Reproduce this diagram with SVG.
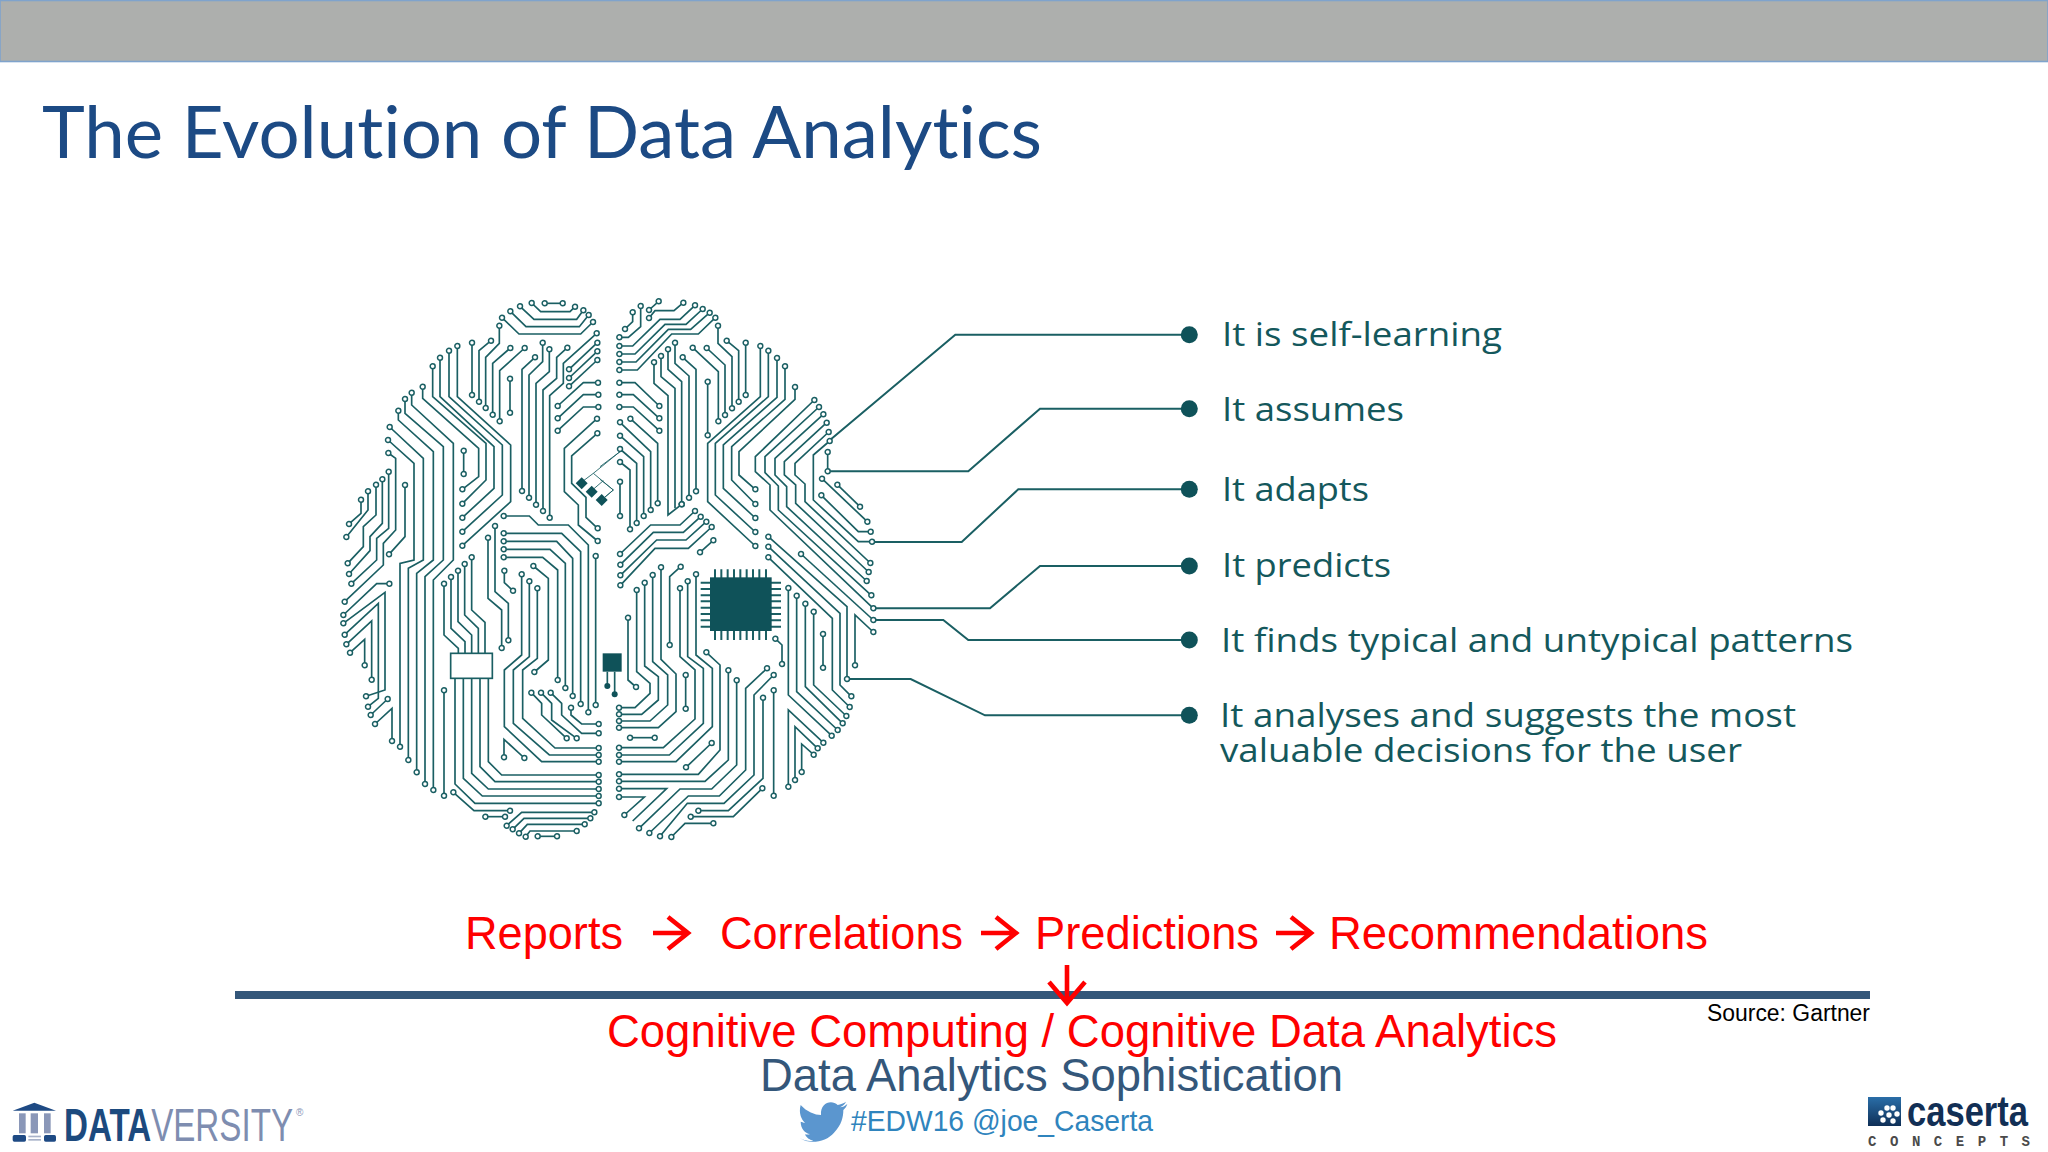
<svg xmlns="http://www.w3.org/2000/svg" width="2048" height="1152" viewBox="0 0 2048 1152">
<style>
.sans{font-family:"Liberation Sans",Arial,sans-serif}
.lab{font-family:"Open Sans","Noto Sans",sans-serif;font-size:32px;fill:#14585c}
.red{font-size:46px;fill:#f00}
.tr path{fill:none;stroke:#1a5f63;stroke-width:5;stroke-linejoin:miter}
.tr path.n{marker-start:url(#o);marker-end:url(#o)}
.tr path.s{marker-start:url(#o)}
.tr path.e{marker-end:url(#o)}
.conn path{fill:none;stroke:#1a5f63;stroke-width:2}
.dot{fill:#0f5259}
.dark{fill:#0f5259;stroke:none}
.arr{fill:none;stroke:#f00;stroke-width:4.6}
</style>
<defs>
<marker id="o" markerUnits="userSpaceOnUse" markerWidth="26" markerHeight="26" refX="13" refY="13"><circle cx="13" cy="13" r="7.5" fill="#fff" stroke="#1a5f63" stroke-width="4.4"/></marker>
<linearGradient id="cg" x1="0" y1="0" x2="0" y2="1"><stop offset="0" stop-color="#2a6ea8"/><stop offset="1" stop-color="#0f2f57"/></linearGradient>
</defs>
<rect width="2048" height="1152" fill="#fff"/>
<rect x="0" y="0.5" width="2048" height="61" fill="#adafad" stroke="#7fa3cc" stroke-width="1.6"/>
<text x="42" y="158" font-family="Lato,'Open Sans',sans-serif" font-size="71" fill="#1c4a84" textLength="1000" lengthAdjust="spacingAndGlyphs" style="font-variant-ligatures:none">The Evolution of Data Analytics</text>

<g id="connectors" class="conn">
<path d="M830 440L955.3 334.7H1189"/>
<path d="M827.3 471.3H968.3L1040 408.7H1189"/>
<path d="M872 542H961.7L1018.3 489.3H1189"/>
<path d="M873.3 608.3H990L1040 566H1189"/>
<path d="M873.3 620H943.3L968.3 640H1189"/>
<path d="M846.7 679H910.7L985 715.3H1189"/>
</g>

<g id="brain">
<g id="brain-top-left" class="tr" transform="translate(320 280) scale(.33333)">
<path class="n" d="M674 70H728"/><path class="n" d="M635 69L662 95H750L765 80"/><path class="n" d="M600 79L642 118H770L790 91"/><path class="n" d="M571 94L618 140H778L806 105"/><path class="n" d="M546 113L597 162H782L819 126"/>
<path class="n" d="M538 137V190L497 232V384"/><path class="n" d="M513 182L477 212V365"/><path class="n" d="M456 188V345"/><path class="n" d="M571 204L518 250V404"/><path class="n" d="M614 204L539 272V424"/><path class="n" d="M570 296V398"/>
<path class="n" d="M645 232L606 268V633"/><path class="n" d="M668 188V245L627 285V653"/><path class="n" d="M688 208V275L648 310V674"/><path class="n" d="M742 203L710 232V295L669 330V693"/><path class="n" d="M830 160L730 250V310L689 347V713"/>
<path class="n" d="M832 188L747 268"/><path class="n" d="M832 214L747 294"/><path class="n" d="M832 240L747 319"/>
<path class="n" d="M834 308H790L713 378"/><path class="n" d="M835 344H790L713 415"/><path class="n" d="M835 381H790L713 452"/>
<path class="n" d="M831 416L733 505V635L775 675V735L833 783"/><path class="n" d="M832 460L755 528V610L798 652V712L833 745"/><path class="n" d="M827 828V1275"/>
<path class="n" d="M431 512V582"/>
<path class="n" d="M308 320V355L476 505V590L427 628"/><path class="n" d="M338 259V350L498 490V600L427 671"/><path class="n" d="M360 233V350L522 500V625L427 713"/><path class="n" d="M387 212V350L547 495V645L427 755"/><path class="n" d="M412 198V350L572 495V665L427 797"/>
<path class="n" d="M275 338V375L400 490V840L340 900V1530"/><path class="n" d="M255 357V400L370 500V840L315 890V1512"/><path class="n" d="M235 392V420L340 515V840L290 880V1477"/><path class="n" d="M209 441L310 535V840L265 865V1440"/><path class="n" d="M204 480L282 550V840L240 850V1400"/>
<path class="n" d="M205 519L227 535V750L190 790V855L74 965"/><path class="n" d="M206 575V745L170 775V840L94 911"/><path class="n" d="M187 598V730L150 770V812L87 882"/><path class="n" d="M168 614V705L130 740V800L83 850"/>
<path class="n" d="M255 615V770L207 823"/><path class="n" d="M144 634V690L79 771"/><path class="n" d="M123 659V700L87 732"/>
<path class="n" d="M551 708H628L655 735H745L805 795V1297"/><path class="n" d="M551 760H725L782 815V1272"/><path class="n" d="M551 784H710L758 835V1248"/><path class="n" d="M551 808H690L736 850V1224"/><path class="n" d="M551 832H668L713 870V1200"/>
<path class="n" d="M525 738V935L565 970V1081"/><path class="n" d="M504 773V955L545 990V1104"/><path class="s" d="M455 832V990L495 1027V1120"/>
<path style="stroke-width:2.6" d="M900 515L820 580L880 630L850 655M820 580L780 610M850 602L815 632"/>
<polygon class="dark" points="785,592 803,610 785,628 767,610"/><polygon class="dark" points="815,617 833,635 815,653 797,635"/><polygon class="dark" points="845,642 863,660 845,678 827,660"/>
</g>

<g id="brain-top-right" class="tr" transform="translate(600 280) scale(.33333)">
<path class="n" d="M176 64L147 90"/><path class="n" d="M250 68L222 92H165L147 114"/><path class="n" d="M98 97V125L75 147"/><path class="n" d="M122 78V140L85 172H58"/>
<path class="n" d="M285 76L240 118H180L98 198H58"/><path class="n" d="M308 87L258 133H195L105 222H58"/><path class="n" d="M329 98L272 148H205L108 246H58"/><path class="n" d="M346 113L295 162H215L112 270H58"/>
<path class="n" d="M58 308H105L178 378"/><path class="n" d="M58 344H100L178 415"/><path class="n" d="M58 381H100L178 452"/>
<path class="n" d="M91 416L173 490V670"/><path class="n" d="M60 427L152 515V690"/><path class="n" d="M60 467L131 530V708"/><path class="n" d="M60 507L110 550V729"/><path class="n" d="M60 546L90 570V748"/><path class="n" d="M60 605V708"/>
<path class="n" d="M162 247V310L204 347V705L245 673"/><path class="s" d="M183 228V290L225 325V685"/><path class="n" d="M204 208V268L245 305V673"/><path class="n" d="M225 188V250L267 288V653"/><path class="n" d="M248 232L288 268V634"/>
<path class="n" d="M278 203L355 275V424"/><path class="n" d="M320 204L375 255V405"/><path class="n" d="M354 137V190L396 230V385"/><path class="n" d="M380 182L416 212V365"/><path class="n" d="M437 188V345"/><path class="n" d="M323 305V466"/>
<path class="n" d="M481 198V350L323 490V665L466 798"/><path class="n" d="M505 212V350L346 490V645L466 756"/><path class="n" d="M531 234V352L370 495V625L466 714"/><path class="n" d="M555 259V358L395 500V600L466 672"/><path class="n" d="M585 321V358L417 515V585L466 628"/>
<path class="n" d="M643 360L466 530V575L510 615V690L820 985"/><path class="n" d="M657 381L495 530V578L535 618V690L814 946"/><path class="n" d="M670 403L525 535V585L560 620V680L800 903"/><path class="n" d="M680 428L553 545V585L587 615V670L806 876"/><path class="n" d="M686 456L585 550V585L615 612V665L811 849"/><path class="n" d="M689 483L640 525V660L775 785H816"/>
<path class="n" d="M683 516V574"/><path class="n" d="M666 596L802 725"/><path class="n" d="M712 614L780 680"/><path class="n" d="M664 646L775 755H812"/>
<path class="n" d="M505 770L741 980V1197"/><path class="n" d="M505 800L720 1000V1215L754 1249"/><path class="n" d="M505 832L697 1015V1230L749 1281"/><path class="n" d="M603 822L820 1020"/>
<path class="n" d="M285 693L240 735H152L60 822"/><path class="n" d="M302 710L250 757H160L61 854"/><path class="n" d="M319 725L258 780H170L61 886"/><path class="n" d="M335 741L265 805H165L61 916"/><path class="n" d="M340 781L300 817"/>
<path style="stroke-width:2.6" d="M0 560L60 515M0 598L40 630L5 660"/>
</g>

<g id="brain-bottom-left" class="tr" transform="translate(320 560) scale(.33333)">
<path class="s" d="M434 12V165L475 205V280"/><path class="s" d="M414 32V185L455 225V280"/><path class="s" d="M393 51V205L435 245V280"/><path class="s" d="M372 71V225L415 265V280"/>
<rect x="392" y="280" width="125" height="75" fill="#fff" stroke="#1a5f63" stroke-width="5"/>
<path class="e" d="M505 355V605L545 645H836"/><path class="e" d="M480 355V620L525 665H836"/><path class="e" d="M455 355V640L505 687H836"/><path class="e" d="M430 355V655L487 708H836"/><path class="e" d="M405 355V672L465 730H836"/>
<path class="n" d="M372 391V707"/><path class="n" d="M400 697L462 752H570"/><path class="n" d="M496 770H555"/>
<path class="n" d="M823 757H605L560 797"/><path class="n" d="M811 775H612L578 808"/><path class="n" d="M794 793H622L597 820"/><path class="n" d="M770 813H630L617 830"/><path class="n" d="M653 829H711"/>
<path class="n" d="M652 85V295L608 330V475L705 564H836"/><path class="n" d="M628 64V290L580 330V490L688 585H836"/><path class="n" d="M605 43V285L553 330V500L665 605H836"/>
<path class="n" d="M552 592V538L613 594"/><path class="n" d="M643 336L685 300V55L640 18"/><path class="n" d="M553 32V68L579 92"/>
<path class="n" d="M634 398L665 430V465L740 535"/><path class="n" d="M663 398L695 430V480L770 535"/><path class="n" d="M692 398L725 430V465L785 520H836"/><path class="n" d="M753 443V465L785 492H836"/>
<path class="n" d="M208 71H170L70 165"/><path class="n" d="M70 190L195 97V390L138 409"/><path class="n" d="M74 224L175 130V415L144 440"/><path class="n" d="M79 253L155 183V359"/><path class="n" d="M90 278L134 238V316"/><path class="n" d="M203 417L152 465"/><path class="n" d="M165 492L216 445V543"/>
</g>

<g id="brain-bottom-right" class="tr" transform="translate(600 560) scale(.33333)">
<path class="n" d="M57 443H105L150 400V370L110 335V90"/><path class="n" d="M57 463H125L175 420V350L134 318V68"/><path class="n" d="M57 483H150L203 435V345L158 305V45"/><path class="n" d="M57 503H175L228 455V342L183 298V22"/>
<path class="n" d="M57 563H190L285 477V330L240 290V85"/><path class="n" d="M57 585H208L310 490V325L263 290V64"/><path class="n" d="M57 605H228L337 500V325L288 285V43"/>
<path class="n" d="M84 173V360L108 381"/><path class="n" d="M209 255V50L242 20"/><path class="n" d="M257 345V446"/><path class="n" d="M90 533H164"/><path class="n" d="M335 549L258 622"/>
<path class="n" d="M57 643H295L360 570V315L319 277"/><path class="n" d="M57 664H315L385 600V331"/><path class="s" d="M57 686H200L98 783"/><path class="n" d="M57 711H133L73 765"/>
<path class="n" d="M117 805L240 687H335L410 615V361"/><path class="n" d="M148 819L265 708H358L437 630V385L501 325"/><path class="n" d="M180 829L262 730H372L462 645V405L521 345"/><path class="n" d="M295 752H385L489 655V413"/><path class="n" d="M272 770H400L487 685"/><path class="n" d="M214 831L255 790H340"/>
<path class="n" d="M521 391V707"/><path class="n" d="M526 236L546 255V312"/>
<path class="n" d="M565 84V405L695 527"/><path class="n" d="M590 107V395L713 510"/><path class="n" d="M616 131V380L728 490"/><path class="n" d="M641 155V375L739 468"/><path class="n" d="M669 222V323"/>
<path class="n" d="M565 680V450L670 548"/><path class="n" d="M585 660V500L653 565"/><path class="n" d="M605 636V552L641 584"/><path class="n" d="M765 316V165L820 216"/>
<rect class="dark" x="8" y="280" width="57" height="55"/><path d="M22 335V378M44 335V403"/><circle class="dark" cx="22" cy="378" r="9"/><circle class="dark" cx="44" cy="403" r="9"/>
<path style="stroke-width:6" d="M345 28V240M364 28V240M383 28V240M402 28V240M421 28V240M440 28V240M459 28V240M478 28V240M498 28V240M302 68H543M302 87H543M302 106H543M302 124H543M302 143H543M302 162H543M302 181H543M302 200H543"/>
<rect class="dark" x="330" y="52" width="185" height="161"/>
</g>
</g>

<g id="node-1"><circle class="dot" cx="1189.3" cy="334.7" r="8.5"/><text class="lab" x="1222" y="346" textLength="280" lengthAdjust="spacingAndGlyphs">It is self-learning</text></g>
<g id="node-2"><circle class="dot" cx="1189.3" cy="408.7" r="8.5"/><text class="lab" x="1222" y="421" textLength="182" lengthAdjust="spacingAndGlyphs">It assumes</text></g>
<g id="node-3"><circle class="dot" cx="1189.3" cy="489.3" r="8.5"/><text class="lab" x="1222" y="501" textLength="147" lengthAdjust="spacingAndGlyphs">It adapts</text></g>
<g id="node-4"><circle class="dot" cx="1189.3" cy="566" r="8.5"/><text class="lab" x="1222" y="577" textLength="169" lengthAdjust="spacingAndGlyphs">It predicts</text></g>
<g id="node-5"><circle class="dot" cx="1189.3" cy="640" r="8.5"/><text class="lab" x="1221" y="652" textLength="632" lengthAdjust="spacingAndGlyphs">It finds typical and untypical patterns</text></g>
<g id="node-6"><circle class="dot" cx="1189.3" cy="715.3" r="8.5"/><text class="lab" x="1220" y="727" textLength="576" lengthAdjust="spacingAndGlyphs">It analyses and suggests the most</text><text class="lab" x="1220" y="762" textLength="522" lengthAdjust="spacingAndGlyphs">valuable decisions for the user</text></g>

<g id="progression">
<text class="sans red" x="465" y="949" textLength="158" lengthAdjust="spacingAndGlyphs">Reports</text>
<path class="arr" d="M653 933H688M668 917L688 933L668 949"/>
<text class="sans red" x="720" y="949" textLength="243" lengthAdjust="spacingAndGlyphs">Correlations</text>
<path class="arr" d="M981 933H1016M996 917L1016 933L996 949"/>
<text class="sans red" x="1035" y="949" textLength="224" lengthAdjust="spacingAndGlyphs">Predictions</text>
<path class="arr" d="M1276 933H1311M1291 917L1311 933L1291 949"/>
<text class="sans red" x="1329" y="949" textLength="379" lengthAdjust="spacingAndGlyphs">Recommendations</text>
</g>
<rect id="rule" x="235" y="991" width="1635" height="8" fill="#34577a"/>
<path class="arr" d="M1067 965V1003M1049 982L1067 1003L1085 982"/>
<text class="sans" x="1707" y="1021" font-size="23" fill="#000" textLength="163" lengthAdjust="spacingAndGlyphs">Source: Gartner</text>
<text class="sans red" x="607" y="1047" textLength="950" lengthAdjust="spacingAndGlyphs">Cognitive Computing / Cognitive Data Analytics</text>
<text class="sans" x="760" y="1091" font-size="46" fill="#34577a" textLength="583" lengthAdjust="spacingAndGlyphs">Data Analytics Sophistication</text>
<g id="twitter">
<path transform="translate(760 950) scale(.33333)" fill="#5b96cf" d="M262 462C255 468 248 472 240 472C248 468 255 462 258 455C250 460 242 463 233 465C215 448 180 458 183 495C165 495 140 485 122 465C115 490 125 510 135 518C130 518 125 516 122 515C122 535 135 550 150 552C145 554 140 554 135 553C140 565 150 570 160 572C147 575 135 572 120 565C150 585 200 575 222 548C245 525 250 500 250 480C255 475 260 470 262 462Z"/>
<text class="sans" x="851" y="1131" font-size="29" fill="#2f84bd" textLength="302" lengthAdjust="spacingAndGlyphs">#EDW16 @joe_Caserta</text>
</g>
<g id="dataversity-logo">
<g transform="scale(.33333) translate(0 3240)">
<polygon points="103,68 168,92 38,92" fill="#1e4a84"/>
<rect x="57" y="100" width="20" height="60" fill="#8a97b8"/><rect x="92" y="100" width="22" height="60" fill="#8a97b8"/><rect x="132" y="100" width="20" height="60" fill="#8a97b8"/>
<rect x="38" y="165" width="40" height="20" rx="5" fill="#1e4a84"/><rect x="132" y="165" width="36" height="20" rx="5" fill="#1e4a84"/><rect x="85" y="167" width="38" height="5" fill="#a8b2c9"/><rect x="85" y="177" width="38" height="5" fill="#a8b2c9"/>
</g>
<text class="sans" x="64" y="1141" font-size="46" fill="#7e8db0" textLength="229" lengthAdjust="spacingAndGlyphs"><tspan fill="#1c4a7e" font-weight="bold">DATA</tspan>VERSITY</text>
<text class="sans" x="296" y="1116" font-size="10" fill="#8a97b8">®</text>
</g>
<g id="caserta-logo">
<rect x="1868" y="1097" width="33" height="29" fill="url(#cg)"/>
<g fill="#fff"><circle cx="1887" cy="1108" r="2.7"/><circle cx="1893" cy="1108" r="2.7"/><circle cx="1881" cy="1113" r="2.7"/><circle cx="1897" cy="1114" r="2.7"/><circle cx="1889" cy="1115" r="2.7"/><circle cx="1883" cy="1120" r="2.7"/><circle cx="1893" cy="1121" r="2.7"/></g>
<text class="sans" x="1907" y="1126" font-size="43" font-weight="bold" fill="#122f55" textLength="121" lengthAdjust="spacingAndGlyphs">caserta</text>
<text x="1868" y="1146" font-family="'Liberation Mono',monospace" font-weight="bold" font-size="14" fill="#4a4a4a" textLength="162" lengthAdjust="spacing">CONCEPTS</text>
</g>
</svg>
